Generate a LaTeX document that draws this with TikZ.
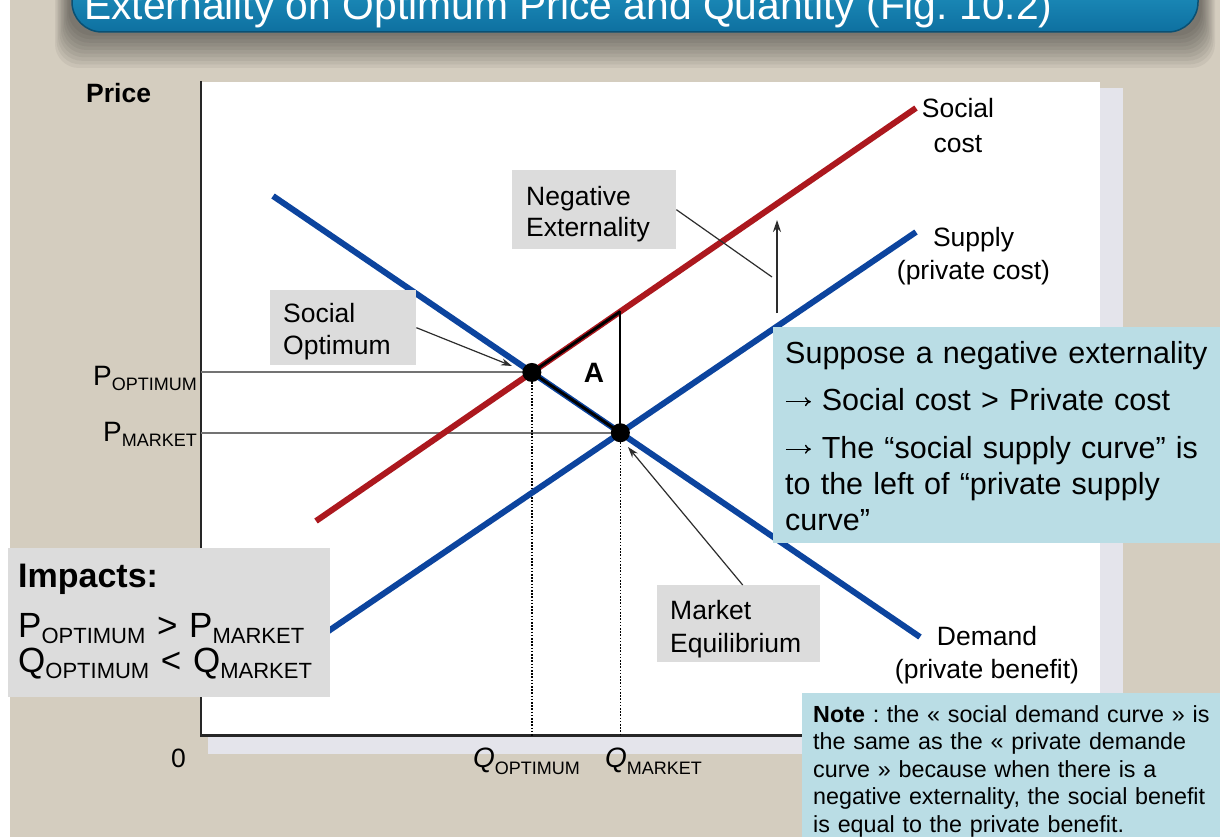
\documentclass[tikz,border=0pt]{standalone}
\usepackage{fontspec}
\setmainfont{Liberation Sans}
\usetikzlibrary{arrows.meta,intersections,calc}
\frenchspacing

\definecolor{beige}{RGB}{212,205,191}
\definecolor{panelshadow}{RGB}{228,228,235}
\definecolor{titletop}{RGB}{45,172,216}
\definecolor{titlebottom}{RGB}{14,112,160}
\definecolor{titleedge}{RGB}{10,80,115}
\definecolor{costred}{RGB}{172,24,30}
\definecolor{curveblue}{RGB}{12,68,158}
\definecolor{boxgray}{RGB}{220,220,220}
\definecolor{boxblue}{RGB}{186,221,229}
\definecolor{guide}{RGB}{115,115,115}
\definecolor{pointer}{RGB}{45,45,45}

% font size in pt with a given baseline skip
\newcommand\fsz[2]{\fontsize{#1pt}{#2pt}\selectfont}
% lowered subscript: drop, size, text
\newcommand\lowsub[3]{\raisebox{-#1pt}{\fsz{#2}{#2}#3}}
% invisible struts fixing the space above the first / below the last line
\newcommand\headroom[1]{\rule{0pt}{#1pt}}
\newcommand\footroom[1]{\rule[-#1pt]{0pt}{#1pt}}
% implication arrow at the start of a bullet line
\newcommand\impl{\tikz[x=1pt,y=1pt,baseline=0pt]
  \draw[line width=1.4pt,-{To[length=6pt,width=9pt]}] (0,9) -- (25,9);}

\tikzset{
  curve/.style={line width=6pt},
  socialcost/.style={curve, draw=costred},
  privatecurve/.style={curve, draw=curveblue},
  axisline/.style={line width=2.5pt, draw=black!85},
  guideline/.style={line width=2pt, draw=guide},
  dropline/.style={line width=1.6pt, dash pattern=on 1.6pt off 1.6pt},
  wedge/.style={line width=3pt, line join=miter},
  eqdot/.style={circle, fill=black, inner sep=0pt, minimum size=19pt},
  pointerline/.style={draw=pointer, line width=1.2pt},
  pointerarrow/.style={pointerline, -{Stealth[length=11pt,width=7pt]}},
  shiftarrow/.style={draw=pointer, line width=2pt, -{Stealth[length=12pt,width=8pt]}},
  calloutbox/.style={fill=boxgray, anchor=north west, inner ysep=0pt, align=left},
  infobox/.style={fill=boxblue, anchor=north west, inner ysep=0pt, align=left},
  curvelabel/.style={inner sep=0pt, align=center, font=\fsz{26.5}{33}},
  plainlabel/.style={inner sep=0pt},
}

\begin{document}
\begin{tikzpicture}[x=1pt,y=-1pt]
\useasboundingbox (0,0) rectangle (1220,837);

% slide background
\fill[beige] (0,0) rectangle (1220,837);
\fill[white] (0,0) rectangle (10,837);

% soft drop shadow under the title banner
\foreach \k in {1,...,10}
  \fill[black, opacity=0.05, rounded corners=24pt] (70-1.5*\k,-40) rectangle (1200+1.5*\k,32+3.6*\k);
% title banner
\shadedraw[top color=titletop, bottom color=titlebottom, draw=titleedge,
  line width=1.5pt, rounded corners=30pt] (72,-60) rectangle (1198,32);
\node[plainlabel, anchor=base west, text=white, font=\fsz{40.8}{48}] (title) at (84,20)
  {Externality on Optimum Price and Quantity (Fig. 10.2)};

% plotting panel
\fill[panelshadow] (208,88) rectangle (1123,754);
\fill[white] (201,82) rectangle (1100,735);

% axes
\coordinate (origin) at (201,735.5);
\coordinate (ytop) at (201,81);
\coordinate (xend) at (1100,735.5);
\draw[axisline] (ytop) -- (origin) -- (xend);
\node[plainlabel, anchor=base west, font=\bfseries\fsz{26.5}{30}] (pricelbl) at (86,103) {Price};
\node[plainlabel, anchor=base, font=\fsz{26.5}{30}] (zerolbl) at (178.5,767) {0};

% curve end points
\coordinate (sc1) at (316,521);   \coordinate (sc2) at (916,108);
\coordinate (sp1) at (322,635.4); \coordinate (sp2) at (916,232);
\coordinate (dm1) at (273,196);   \coordinate (dm2) at (920,637);

% optimum, market equilibrium and the corner of the welfare-loss wedge
\path[name path=socialpath] (sc1) -- (sc2);
\path[name path=supplypath] (sp1) -- (sp2);
\path[name path=demandpath] (dm1) -- (dm2);
\path[name intersections={of=socialpath and demandpath, by=opt}];
\path[name intersections={of=supplypath and demandpath, by=mkt}];
\path[name path=riser] (mkt) -- ++(0,-200);
\path[name intersections={of=riser and socialpath, by=wedgetop}];

% guide lines to the axes
\draw[guideline] (opt) -- (opt -| origin);
\draw[guideline] (mkt) -- (mkt -| origin);
\draw[dropline] (opt) -- (opt |- origin);
\draw[dropline] (mkt) -- (mkt |- origin);

% curves
\draw[socialcost] (sc1) -- (sc2);
\draw[privatecurve] (sp1) -- (sp2);
\draw[privatecurve] (dm1) -- (dm2);

% wedge A
\draw[wedge] (mkt) -- (opt) -- (wedgetop);
\draw[line width=2pt] (wedgetop) -- (mkt);
\node[eqdot] (optdot) at (opt) {};
\node[eqdot] (mktdot) at (mkt) {};
\node[plainlabel, anchor=base, font=\bfseries\fsz{28}{30}] (arealbl) at (594,382) {A};

% upward shift of the supply curve
\coordinate (shiftbase) at (777,313);
\coordinate (shifttip) at (777,220);
\draw[shiftarrow] (shiftbase) -- (shifttip);

% callouts
\node[calloutbox, inner xsep=14pt, text width=136pt, font=\fsz{26.5}{31}] (negbox) at (512,170)
  {\headroom{35}Negative\\Externality\footroom{13}};
\coordinate (negpoint) at (772,277);
\draw[pointerline] (negbox.east) -- (negpoint);

\node[calloutbox, inner xsep=13pt, text width=120pt, font=\fsz{26.5}{32}] (socbox) at (270,290)
  {\headroom{32}Social\\Optimum\footroom{11}};
\coordinate (opttip) at (512,366);
\draw[pointerarrow] (socbox.east) -- (opttip);

\node[calloutbox, inner xsep=13pt, text width=137pt, font=\fsz{26.5}{33}] (mktbox) at (657,585)
  {\headroom{34}Market\\Equilibrium\footroom{10}};
\coordinate (mkttip) at (628,447);
\draw[pointerarrow] ([xshift=4pt]mktbox.north) -- (mkttip);

\node[calloutbox, inner xsep=10pt, text width=302pt, font=\fsz{35}{35}] (impbox) at (8,548)
  {\headroom{39}{\bfseries\fsz{34}{35}Impacts:}\\[15pt]%
   P\lowsub{6}{22}{OPTIMUM} > P\lowsub{6}{22}{MARKET}\\
   Q\lowsub{6}{22}{OPTIMUM} < Q\lowsub{6}{22}{MARKET}\footroom{25}};

\node[infobox, inner xsep=12pt, text width=436pt, font=\fsz{30.5}{36}] (suppbox) at (773,327)
  {\headroom{36}Suppose a negative externality\\[11.5pt]%
   \impl{} Social cost > Private cost\\[11.5pt]%
   \impl{} The “social supply curve” is\\
   to the left of “private supply\\
   curve”\footroom{13}};

\node[infobox, inner xsep=11pt, text width=408pt, font=\fsz{23.3}{27.5}] (notebox) at (802,693)
  {\headroom{29}\textbf{Note} : the « social demand curve » is\\
   the same as the « private demande\\
   curve » because when there is a\\
   negative externality, the social benefit\\
   is equal to the private benefit.\footroom{20}};

% curve names
\node[curvelabel, font=\fsz{26.5}{35}] (sclbl) at (958,125.2) {Social\\cost};
\node[curvelabel] (splbl) at (973.5,256.5) {Supply\\(private cost)};
\node[curvelabel, font=\fsz{26.5}{32.5}] (dmlbl) at (987,655.3) {Demand\\(private benefit)};

% axis values
\node[plainlabel, anchor=base east, font=\fsz{28}{30}] (poptlbl) at (197,385) {P\lowsub{5}{18}{OPTIMUM}};
\node[plainlabel, anchor=base east, font=\fsz{28}{30}] (pmktlbl) at (197,441) {P\lowsub{5}{18}{MARKET}};
\node[plainlabel, anchor=base west, font=\fsz{28}{30}] (qoptlbl) at (473,767) {\textit{Q}\lowsub{7}{18}{OPTIMUM}};
\node[plainlabel, anchor=base west, font=\fsz{28}{30}] (qmktlbl) at (605,767) {\textit{Q}\lowsub{7}{18}{MARKET}};
\end{tikzpicture}
\end{document}
